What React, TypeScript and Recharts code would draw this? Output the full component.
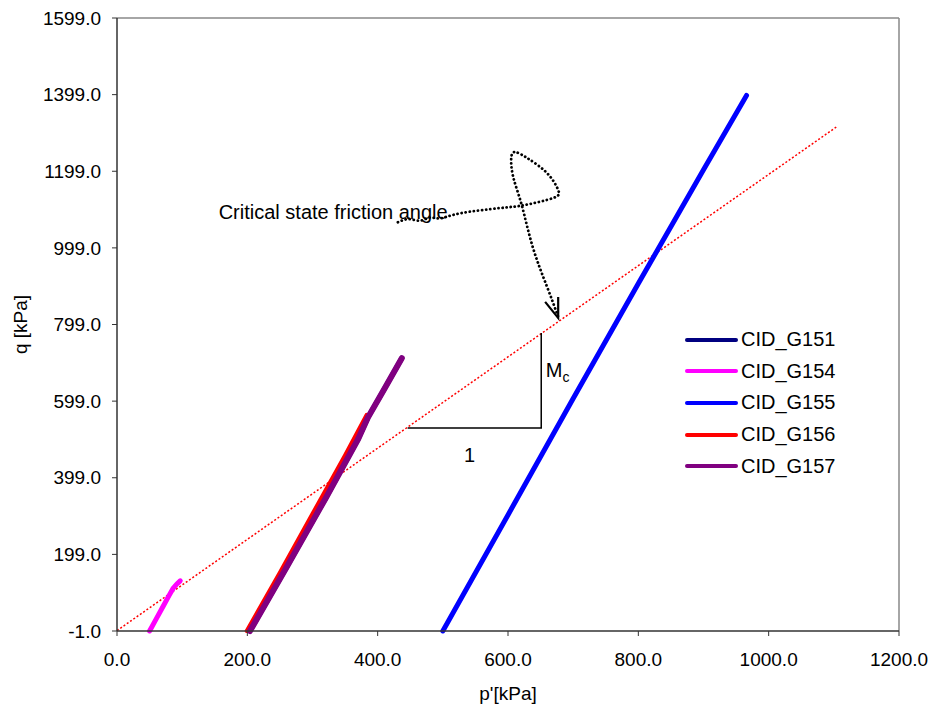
import { LineChart, Line, XAxis, YAxis, ReferenceLine, ReferenceDot, Legend } from 'recharts';

const FONT = '"Liberation Sans", Arial, sans-serif';

// axis ticks
const xTicks = [0, 200, 400, 600, 800, 1000, 1200];
const yTicks = [-1, 199, 399, 599, 799, 999, 1199, 1399, 1599];

// stress paths (p', q)
const g151 = [
  { p: 204, q: -1 }, { p: 260, q: 165 }, { p: 320, q: 345 }, { p: 370, q: 500 },
  { p: 385, q: 556 }, { p: 410, q: 630 }, { p: 437, q: 711 },
];
const g154 = [
  { p: 50, q: -1 }, { p: 60, q: 30 }, { p: 70, q: 61 }, { p: 80, q: 92 },
  { p: 86, q: 110 }, { p: 92, q: 122 }, { p: 97, q: 130 },
];
const g155 = [
  { p: 500, q: -1 }, { p: 600, q: 302 }, { p: 700, q: 606 }, { p: 800, q: 906 },
  { p: 900, q: 1203 }, { p: 966, q: 1397 },
];
const g156 = [
  { p: 199, q: -1 }, { p: 250, q: 152 }, { p: 300, q: 305 }, { p: 350, q: 458 },
  { p: 383, q: 563 },
];
const g157 = [
  { p: 204, q: -1 }, { p: 260, q: 165 }, { p: 320, q: 345 }, { p: 370, q: 500 },
  { p: 385, q: 556 }, { p: 410, q: 630 }, { p: 437, q: 711 },
];

// critical state line q = Mc p'
const cslLine = [{ p: 0, q: 0 }, { p: 1106, q: 1317 }];
// slope triangle
const triangle = [{ p: 446, q: 529 }, { p: 651, q: 529 }, { p: 651, q: 777 }];
// dotted curly arrow from the annotation to the line
const arrowPath = [
  { p: 431, q: 1066 }, { p: 448, q: 1074 }, { p: 465, q: 1070 }, { p: 480, q: 1078 },
  { p: 496, q: 1076 }, { p: 526, q: 1089 },
  { p: 588, q: 1103 }, { p: 626, q: 1111 }, { p: 669, q: 1129 }, { p: 677, q: 1150 },
  { p: 660, q: 1194 }, { p: 629, q: 1234 }, { p: 611, q: 1249 }, { p: 605, q: 1234 },
  { p: 608, q: 1184 }, { p: 621, q: 1111 }, { p: 638, q: 1001 }, { p: 660, q: 897 },
  { p: 677, q: 819 },
];
const arrowHead = [{ p: 657, q: 858 }, { p: 677, q: 816 }, { p: 677, q: 871 }];

const series = [
  { name: 'CID_G151', color: '#000080', width: 5, data: g151 },
  { name: 'CID_G154', color: '#FF00FF', width: 5, data: g154 },
  { name: 'CID_G155', color: '#0000FF', width: 5, data: g155 },
  { name: 'CID_G156', color: '#FF0000', width: 4, data: g156 },
  { name: 'CID_G157', color: '#800080', width: 6, data: g157 },
];

const renderLegend = () => (
  <div style={{ fontFamily: FONT }}>
    {series.map((s) => (
      <div key={s.name} style={{ display: 'flex', alignItems: 'center', height: 31.6 }}>
        <div style={{ width: 53, height: 4, background: s.color, borderRadius: 2, marginRight: 3 }} />
        <span style={{ fontSize: 20, color: '#000' }}>{s.name}</span>
      </div>
    ))}
  </div>
);

export default function App() {
  return (
    <div style={{ width: 935, height: 710, background: '#fff' }}>
      <style>{'body{margin:0}'}</style>
      <LineChart
        width={935}
        height={710}
        margin={{ top: 18, right: 36, left: 17, bottom: 0 }}
        style={{ fontFamily: FONT }}
      >
        <XAxis
          type="number"
          dataKey="p"
          domain={[0, 1200]}
          ticks={xTicks}
          tickFormatter={(v: number) => v.toFixed(1)}
          height={79}
          tickSize={5}
          tickMargin={17}
          axisLine={{ stroke: '#333', strokeWidth: 1.5 }}
          tickLine={{ stroke: '#333' }}
          tick={{ fill: '#000', fontSize: 19 }}
          label={{ value: "p'[kPa]", position: 'insideBottom', offset: 10, fill: '#000', fontSize: 19 }}
        />
        <YAxis
          type="number"
          dataKey="q"
          domain={[-1, 1599]}
          ticks={yTicks}
          tickFormatter={(v: number) => v.toFixed(1)}
          width={100}
          tickSize={5}
          tickMargin={11}
          axisLine={{ stroke: '#333', strokeWidth: 1.5 }}
          tickLine={{ stroke: '#333' }}
          tick={{ fill: '#000', fontSize: 19 }}
          label={{ value: 'q [kPa]', angle: -90, position: 'insideLeft', offset: 3, fill: '#000', fontSize: 19, style: { textAnchor: 'middle' } }}
        />
        <ReferenceLine y={1599} stroke="#888" strokeWidth={1.5} />
        <ReferenceLine x={1200} stroke="#888" strokeWidth={1.5} />

        <Line data={cslLine} dataKey="q" type="linear" stroke="#FF0000" strokeWidth={1.5}
          strokeDasharray="2 2" dot={false} activeDot={false} legendType="none" isAnimationActive={false} />
        <Line data={triangle} dataKey="q" type="linear" stroke="#000" strokeWidth={1.5}
          dot={false} activeDot={false} legendType="none" isAnimationActive={false} />

        {series.map((s) => (
          <Line key={s.name} name={s.name} data={s.data} dataKey="q" type="linear" stroke={s.color}
            strokeWidth={s.width} strokeLinecap="round" dot={false} activeDot={false} isAnimationActive={false} />
        ))}

        <Line data={arrowPath} dataKey="q" type="natural" stroke="#000" strokeWidth={2.8}
          strokeDasharray="0.1 4" strokeLinecap="round" dot={false} activeDot={false} legendType="none" isAnimationActive={false} />
        <Line data={arrowHead} dataKey="q" type="linear" stroke="#000" strokeWidth={2.2}
          dot={false} activeDot={false} legendType="none" isAnimationActive={false} />

        <ReferenceDot x={156} y={1074} r={0} ifOverflow="visible"
          shape={(props: any) => (
            <text x={props.cx} y={props.cy} fontSize={20} fill="#000" fontFamily={FONT}>Critical state friction angle</text>
          )} />
        <ReferenceDot x={541} y={458} r={0} ifOverflow="visible"
          shape={(props: any) => (
            <text x={props.cx} y={props.cy} dy={7} textAnchor="middle" fontSize={20} fill="#000" fontFamily={FONT}>1</text>
          )} />
        <ReferenceDot x={658} y={662} r={0} ifOverflow="visible"
          shape={(props: any) => (
            <text x={props.cx} y={props.cy} fontSize={20} fill="#000" fontFamily={FONT}>
              M<tspan dy={5} fontSize={14}>c</tspan>
            </text>
          )} />

        <Legend
          layout="vertical"
          align="center"
          verticalAlign="middle"
          content={renderLegend}
          wrapperStyle={{ position: 'absolute', left: 685, top: 324, width: 200, height: 160 }}
        />
      </LineChart>
    </div>
  );
}
